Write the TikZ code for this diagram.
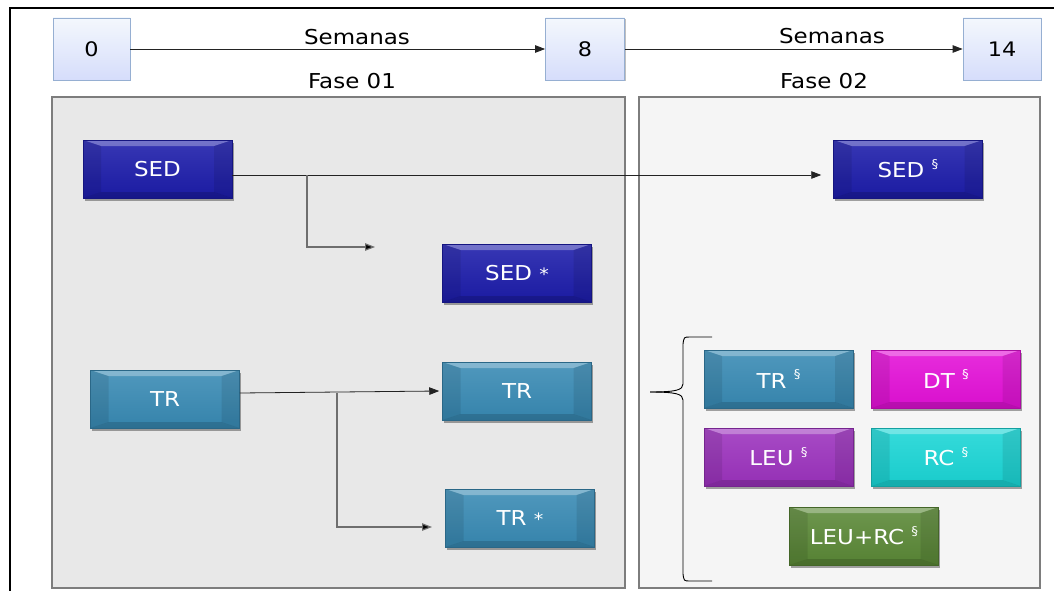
\documentclass[tikz,border=0pt]{standalone}
\usepackage{fontspec}
\newfontfamily\lblfont[FakeStretch=1.12]{DejaVu Sans}
\usetikzlibrary{shadows,arrows.meta}
\definecolor{sedc}{RGB}{28,28,170}
\definecolor{trc}{RGB}{56,138,180}
\definecolor{dtc}{RGB}{228,16,216}
\definecolor{leuc}{RGB}{156,50,190}
\definecolor{rcc}{RGB}{26,214,214}
\definecolor{lrc}{RGB}{90,136,54}
\definecolor{tlfill}{RGB}{226,236,249}
\definecolor{tldraw}{RGB}{150,175,210}
\definecolor{panelA}{RGB}{232,232,232}
\definecolor{panelB}{RGB}{245,245,245}
\definecolor{paneldraw}{RGB}{125,125,125}
\definecolor{branchc}{RGB}{110,110,110}
\newcommand\ssect{\raisebox{0.45em}{\fontsize{12}{12}\selectfont §}}
\newcommand\sast{{\fontsize{17}{17}\selectfont *}}
\tikzset{
  lbl/.style={font=\lblfont\fontsize{20.5}{24}\selectfont, text=black, inner sep=0pt},
  tlbox/.style={draw=tldraw, line width=0.8pt, top color=white!60!tlfill, bottom color=tlfill!90!blue!80!white,
    minimum height=62pt, inner sep=0pt, font=\lblfont\fontsize{20}{24}\selectfont,
    drop shadow={shadow xshift=1pt,shadow yshift=-1.5pt,opacity=0.25,fill=black}},
  panel/.style={draw=paneldraw, line width=1.4pt},
  bev/.style={top color=#1!88!white, bottom color=#1!95!black, draw=#1!75!black, line width=0.5pt, minimum width=149pt, minimum height=58pt,
    inner sep=0pt, text=white, font=\lblfont\fontsize{20.5}{24}\selectfont,
    drop shadow={shadow xshift=1.5pt,shadow yshift=-2.5pt,opacity=0.35,fill=black},
    path picture={
      \fill[white, opacity=0.3] (path picture bounding box.north west) -- (path picture bounding box.north east)
        -- ([shift={(-18pt,-6pt)}]path picture bounding box.north east) -- ([shift={(18pt,-6pt)}]path picture bounding box.north west) -- cycle;
      \fill[black, opacity=0.15] (path picture bounding box.south west) -- (path picture bounding box.south east)
        -- ([shift={(-18pt,6pt)}]path picture bounding box.south east) -- ([shift={(18pt,6pt)}]path picture bounding box.south west) -- cycle;
      \fill[black, opacity=0.09] (path picture bounding box.north west) -- (path picture bounding box.south west)
        -- ([shift={(18pt,6pt)}]path picture bounding box.south west) -- ([shift={(18pt,-6pt)}]path picture bounding box.north west) -- cycle;
      \fill[black, opacity=0.09] (path picture bounding box.north east) -- (path picture bounding box.south east)
        -- ([shift={(-18pt,6pt)}]path picture bounding box.south east) -- ([shift={(-18pt,-6pt)}]path picture bounding box.north east) -- cycle;
    }},
  arr/.style={draw={rgb,255:red,35;green,35;blue,35}, line width=0.8pt, -{Triangle[length=10pt,width=7.5pt]}},
  branch/.style={draw=branchc, line width=1.2pt, -{Triangle[length=10pt,width=7.5pt,fill=black]}},
}
\begin{document}
\begin{tikzpicture}[x=1pt,y=-1pt]
\useasboundingbox (0,0) rectangle (1054,591);
\fill[white] (0,0) rectangle (1054,591);
\draw[line width=2.5pt] (10,591) -- (10,8) -- (1054,8);

% panels
\draw[panel, fill=panelA] (52,97) rectangle (625,588);
\draw[panel, fill=panelB] (639,97) rectangle (1040,588);

% timeline
\node[tlbox, minimum width=77pt] (t0) at (91.5,49) {0};
\node[tlbox, minimum width=79pt] (t8) at (585,49) {8};
\node[tlbox, minimum width=78pt] (t14) at (1002,49) {14};
\draw[arr] (t0) -- (t8);
\draw[arr] (t8) -- (t14);
\node[lbl, anchor=base] (sem1) at (357,45) {Semanas};
\node[lbl, anchor=base] (sem2) at (832,44) {Semanas};
\node[lbl, anchor=base] (f1) at (352,89) {Fase 01};
\node[lbl, anchor=base] (f2) at (824,89) {Fase 02};

% boxes
\node[bev=sedc] (sed) at (157.5,169) {SED};
\node[bev=sedc] (sedast) at (517,273) {SED \sast};
\node[bev=sedc] (seds) at (908,169) {SED \ssect};
\node[bev=trc] (trl) at (165,399) {TR};
\node[bev=trc] (trm) at (517,391) {TR};
\node[bev=trc] (trast) at (520,518) {TR \sast};
\node[bev=trc] (trs) at (778.5,379) {TR \ssect};
\node[bev=dtc] (dts) at (946,379) {DT \ssect};
\node[bev=leuc] (leus) at (778.5,457) {LEU \ssect};
\node[bev=rcc] (rcs) at (946,457) {RC \ssect};
\node[bev=lrc] (lrs) at (864,536) {LEU+RC \ssect};

% connectors
\draw[arr] ([yshift=-6pt]sed.east) -- ([xshift=-12pt,yshift=-6pt]seds.west);
\coordinate (b1) at (307,175);
\coordinate (e1) at (375,247);
\draw[branch] (b1) |- (e1);
\draw[arr] ([yshift=6pt]trl.east) -- ([xshift=-3pt]trm.west);
\coordinate (b2) at (337,393);
\coordinate (e2) at (432,527);
\draw[branch] (b2) |- (e2);

% brace
\draw[line width=0.9pt] (712,337) -- (690,337) .. controls (684,337) .. (683,344) -- (683,384)
  .. controls (683,390) and (676,392) .. (650,392);
\draw[line width=0.9pt] (650,392) .. controls (676,392) and (683,394) .. (683,400) -- (683,574)
  .. controls (684,581) .. (690,581) -- (712,581);
\end{tikzpicture}
\end{document}
